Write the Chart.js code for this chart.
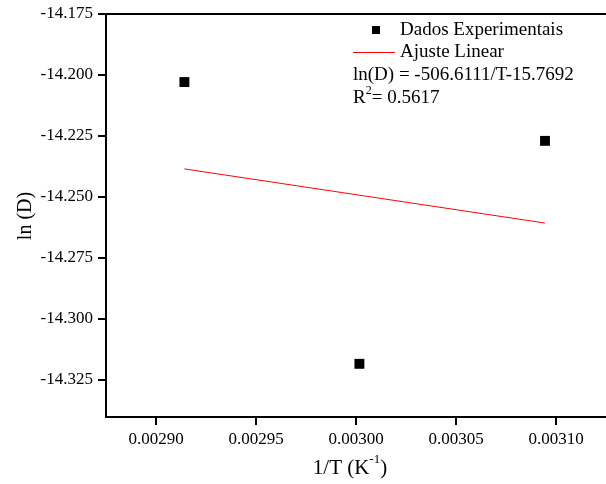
<!DOCTYPE html>
<html>
<head>
<meta charset="utf-8">
<script src="https://cdn.jsdelivr.net/npm/chart.js@4.4.0/dist/chart.umd.min.js"></script>
<style>
html,body{margin:0;padding:0;background:#fff;overflow:hidden;}
#wrap{width:620px;height:484px;}
</style>
</head>
<body>
<div id="wrap"><canvas id="c" width="620" height="484"></canvas></div>
<script>
const xValues = [0.0029142, 0.0030017, 0.0030945];
const yValues = [-14.2029, -14.3184, -14.2270];
const fitX = [0.0029142, 0.0030945];
const fitY = [-14.2385, -14.2607];
const xTicks = [0.00290, 0.00295, 0.00300, 0.00305, 0.00310];
const xTickLabels = ['0.00290', '0.00295', '0.00300', '0.00305', '0.00310'];
const yTicks = [-14.175, -14.200, -14.225, -14.250, -14.275, -14.300, -14.325];
const yTickLabels = ['-14.175', '-14.200', '-14.225', '-14.250', '-14.275', '-14.300', '-14.325'];
const seriesNames = ['Dados Experimentais', 'Ajuste Linear'];
const equationText = 'ln(D) = -506.6111/T-15.7692';
const r2Text = ['R', '2', '= 0.5617'];
const xTitle = ['1/T (K', '-1', ')'];
const yTitle = 'ln (D)';

const SERIF = '"Liberation Serif", "Times New Roman", serif';

const overlay = {
  id: 'overlay',
  afterDraw(chart) {
    const ctx = chart.ctx;
    const a = chart.chartArea;
    const xs = chart.scales.x, ys = chart.scales.y;
    ctx.save();
    ctx.fillStyle = '#000';
    // top frame line
    ctx.fillRect(a.left - 1, a.top - 1, a.right - a.left + 3, 2);
    // tick marks (outward)
    xTicks.forEach(v => {
      const px = Math.round(xs.getPixelForValue(v));
      ctx.fillRect(px - 1, a.bottom, 2, 8);
    });
    yTicks.forEach(v => {
      const py = Math.round(ys.getPixelForValue(v));
      ctx.fillRect(a.left - 8, py - 1, 8, 2);
    });

    ctx.textBaseline = 'middle';
    ctx.textAlign = 'left';
    ctx.font = '19px ' + SERIF;
    // legend entry 1
    ctx.fillRect(372, 26, 8, 8);
    ctx.fillText(seriesNames[0], 400, 30);
    // legend entry 2
    ctx.strokeStyle = '#ff0000';
    ctx.lineWidth = 1;
    ctx.beginPath();
    ctx.moveTo(353, 52.5);
    ctx.lineTo(395, 52.5);
    ctx.stroke();
    ctx.fillText(seriesNames[1], 400, 52);
    // equation
    ctx.fillText(equationText, 353, 75);
    // R2
    let x = 353;
    ctx.fillText(r2Text[0], x, 98);
    x += ctx.measureText(r2Text[0]).width;
    ctx.font = '12px ' + SERIF;
    ctx.fillText(r2Text[1], x, 91);
    x += ctx.measureText(r2Text[1]).width;
    ctx.font = '19px ' + SERIF;
    ctx.fillText(r2Text[2], x, 98);

    // x title
    const big = '21px ' + SERIF, small = '13px ' + SERIF;
    ctx.font = big;
    const w0 = ctx.measureText(xTitle[0]).width;
    const w2 = ctx.measureText(xTitle[2]).width;
    ctx.font = small;
    const w1 = ctx.measureText(xTitle[1]).width;
    let tx = 350 - (w0 + w1 + w2) / 2;
    ctx.font = big;
    ctx.fillText(xTitle[0], tx, 468);
    tx += w0;
    ctx.font = small;
    ctx.fillText(xTitle[1], tx, 460);
    tx += w1;
    ctx.font = big;
    ctx.fillText(xTitle[2], tx, 468);

    // y title
    ctx.translate(26, 216);
    ctx.rotate(-Math.PI / 2);
    ctx.textAlign = 'center';
    ctx.font = '20px ' + SERIF;
    ctx.fillText(yTitle, 0, 0);
    ctx.restore();
  }
};

new Chart(document.getElementById('c'), {
  type: 'scatter',
  data: {
    datasets: [
      {
        label: seriesNames[0],
        data: xValues.map((v, i) => ({x: v, y: yValues[i]})),
        pointStyle: 'rect',
        pointRadius: 7,
        pointHoverRadius: 7,
        backgroundColor: '#000',
        borderColor: '#000',
        borderWidth: 0
      },
      {
        label: seriesNames[1],
        data: fitX.map((v, i) => ({x: v, y: fitY[i]})),
        showLine: true,
        pointRadius: 0,
        borderColor: '#ff0000',
        borderWidth: 1,
        backgroundColor: '#ff0000'
      }
    ]
  },
  options: {
    responsive: false,
    animation: false,
    layout: {padding: {top: 14, right: 14, left: 0, bottom: 0}},
    plugins: {legend: {display: false}, tooltip: {enabled: false}},
    scales: {
      x: {
        type: 'linear',
        min: 0.002875,
        max: 0.003125,
        afterBuildTicks: s => { s.ticks = xTicks.map(v => ({value: v})); },
        afterFit: s => { s.height = 67; s.paddingLeft = 0; s.paddingRight = 0; },
        grid: {display: false, drawTicks: false},
        border: {display: true, color: '#000', width: 2},
        ticks: {
          color: '#000',
          padding: 12,
          maxRotation: 0,
          autoSkip: false,
          font: {family: SERIF, size: 17},
          callback: (v, i) => xTickLabels[i]
        }
      },
      y: {
        type: 'linear',
        min: -14.3402,
        max: -14.175,
        afterBuildTicks: s => { s.ticks = yTicks.map(v => ({value: v})); },
        afterFit: s => { s.width = 106; s.paddingTop = 0; s.paddingBottom = 0; },
        grid: {display: false, drawTicks: false},
        border: {display: true, color: '#000', width: 2},
        ticks: {
          color: '#000',
          padding: 13,
          autoSkip: false,
          font: {family: SERIF, size: 17},
          callback: (v, i) => yTickLabels[i]
        }
      }
    }
  },
  plugins: [overlay]
});
</script>
</body>
</html>
